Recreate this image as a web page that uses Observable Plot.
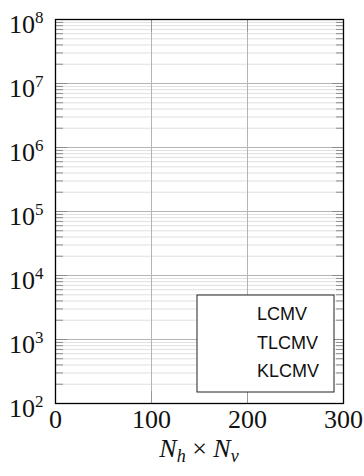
<!DOCTYPE html>
<html><head><meta charset="utf-8">
<script src="https://cdn.jsdelivr.net/npm/d3@7"></script>
<script src="https://cdn.jsdelivr.net/npm/@observablehq/plot@0.6"></script>
<style>html,body{margin:0;padding:0;background:#fff}svg{display:block}</style>
</head><body><div id="chart"></div>
<script>
// Series shown in the legend (no data points are visible in the reference)
const seriesNames = ["LCMV", "TLCMV", "KLCMV"];
const lcmv = [];
const tlcmv = [];
const klcmv = [];
// Axis ticks
const xTicks = [0, 100, 200, 300];
const xGrid = [100, 200];
const decades = [1e2, 1e3, 1e4, 1e5, 1e6, 1e7, 1e8];
const minorFactors = [2, 3, 4, 5, 6, 7, 8, 9];
const xDomain = [0, 300];
const yDomain = [1e2, 1e8];

const minorVals = decades.slice(0, -1).flatMap(d => minorFactors.map(f => d * f));
const rows = [
  ...lcmv.map(d => ({series: "LCMV", ...d})),
  ...tlcmv.map(d => ({series: "TLCMV", ...d})),
  ...klcmv.map(d => ({series: "KLCMV", ...d}))
];

const serif = "'Liberation Serif', 'Times New Roman', serif";
const sans = "'Liberation Sans', Arial, sans-serif";

const plot = Plot.plot({
  width: 364,
  height: 476,
  marginLeft: 55,
  marginRight: 21,
  marginTop: 19,
  marginBottom: 73,
  x: {domain: xDomain},
  y: {type: "log", domain: yDomain},
  marks: [
    Plot.ruleY(minorVals, {stroke: "#e0e0e0", strokeWidth: 1}),
    Plot.ruleY(decades, {stroke: "#b4b4b4", strokeWidth: 1}),
    Plot.ruleX(xGrid, {stroke: "#b4b4b4", strokeWidth: 1}),
    Plot.axisY({anchor: "left", ticks: minorVals, tickSize: -8, tickFormat: () => "", label: null, stroke: "#8c8c8c"}),
    Plot.axisY({anchor: "right", ticks: minorVals, tickSize: -8, tickFormat: () => "", label: null, stroke: "#8c8c8c"}),
    Plot.axisY({anchor: "right", ticks: decades, tickSize: -12, tickFormat: () => "", label: null, stroke: "#8c8c8c"}),
    Plot.axisY({anchor: "left", ticks: decades, tickSize: -12, tickPadding: 24,
      tickFormat: d => "10^" + Math.round(Math.log10(d)), label: null, stroke: "#8c8c8c",
      fontSize: 26, fontFamily: serif, fill: "#111"}),
    Plot.axisX({anchor: "bottom", ticks: xTicks, tickSize: -12, tickPadding: 18, label: null,
      stroke: "#999", fontSize: 26, fontFamily: serif, fill: "#111"}),
    Plot.axisX({anchor: "top", ticks: xTicks, tickSize: -12, tickFormat: () => "", label: null, stroke: "#999"}),
    Plot.line(rows, {x: "x", y: "y", z: "series"}),
    Plot.frame({stroke: "#000", strokeWidth: 1.3})
  ]
});

const svg = d3.select(plot);
// superscript exponents on y tick labels
svg.selectAll('g[aria-label="y-axis tick label"] text').each(function() {
  const t = d3.select(this);
  const s = t.text();
  if (!s.includes("^")) return;
  const [base, exp] = s.split("^");
  t.text(null).attr("dy", "5");
  t.append("tspan").text(base);
  t.append("tspan").attr("font-size", 17).attr("dy", -10).text(exp);
});

const xs = plot.scale("x"), ys = plot.scale("y");
const cx = (xs.apply(xDomain[0]) + xs.apply(xDomain[1])) / 2;
const xl = svg.append("text")
  .attr("x", cx).attr("y", 457)
  .attr("text-anchor", "middle")
  .attr("font-family", serif).attr("font-size", 26).attr("fill", "#111");
xl.append("tspan").attr("font-style", "italic").text("N");
xl.append("tspan").attr("font-style", "italic").attr("font-size", 18).attr("dy", 5).text("h");
xl.append("tspan").attr("dy", -5).text(" × ");
xl.append("tspan").attr("font-style", "italic").text("N");
xl.append("tspan").attr("font-style", "italic").attr("font-size", 18).attr("dy", 5).text("v");

// legend box (south-east)
const lg = svg.append("g");
const right = xs.apply(xDomain[1]) - 9;
const bottom = ys.apply(yDomain[0]) - 11;
const lw = 137, lh = 97;
lg.append("rect").attr("x", right - lw).attr("y", bottom - lh).attr("width", lw).attr("height", lh)
  .attr("fill", "#fff").attr("stroke", "#222").attr("stroke-width", 1);
seriesNames.forEach((name, i) => {
  lg.append("text").attr("x", right - lw + 60).attr("y", bottom - lh + 25 + i * 28.7)
    .attr("text-anchor", "start")
    .attr("font-family", sans).attr("font-size", 18).attr("fill", "#111").text(name);
});

document.getElementById("chart").appendChild(plot);
</script>
</body></html>
